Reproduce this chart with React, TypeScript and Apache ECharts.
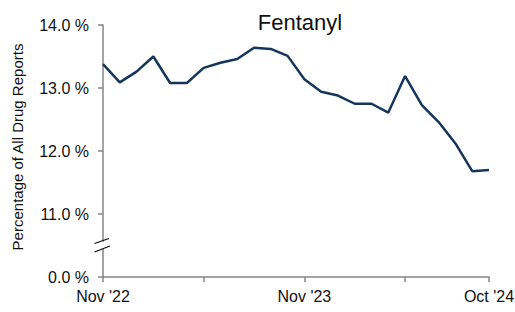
import React, { useEffect, useRef } from "react";
import * as echarts from "echarts";

const months = [
  "Nov '22", "Dec '22", "Jan '23", "Feb '23", "Mar '23", "Apr '23", "May '23", "Jun '23",
  "Jul '23", "Aug '23", "Sep '23", "Oct '23", "Nov '23", "Dec '23", "Jan '24", "Feb '24",
  "Mar '24", "Apr '24", "May '24", "Jun '24", "Jul '24", "Aug '24", "Sep '24", "Oct '24",
];
const fentanylPct = [
  13.38, 13.09, 13.26, 13.5, 13.08, 13.08, 13.32, 13.4, 13.46, 13.64, 13.62, 13.51,
  13.14, 12.94, 12.88, 12.75, 12.75, 12.61, 13.19, 12.73, 12.46, 12.12, 11.68, 11.7,
];
const labelIndices = [0, 12, 23];
const tickIndices = [0, 6, 12, 18, 23];
// axis break: value 10 on the scale is drawn as "0.0 %"
const breakBase = 10;

export default function App() {
  const ref = useRef<HTMLDivElement>(null);
  useEffect(() => {
    if (!ref.current) return;
    const chart = echarts.init(ref.current, undefined, { renderer: "svg" });
    const axisColor = "#868686";
    const font = "'Liberation Sans', Arial, sans-serif";
    chart.setOption({
      animation: false,
      title: {
        text: "Fentanyl",
        left: 295,
        textAlign: "center",
        top: 6,
        textStyle: { fontFamily: font, fontSize: 22, fontWeight: "normal", color: "#111" },
      },
      grid: { left: 103, right: 26, top: 25, bottom: 35, outerBoundsMode: "none", containLabel: false },
      xAxis: {
        type: "category",
        data: months,
        boundaryGap: false,
        axisLine: { lineStyle: { color: axisColor, width: 1.5 } },
        axisTick: {
          length: 5,
          lineStyle: { color: axisColor, width: 1.5 },
          interval: (i: number) => tickIndices.includes(i),
        },
        axisLabel: {
          interval: (i: number) => labelIndices.includes(i),
          color: "#111",
          fontFamily: font,
          fontSize: 16,
          margin: 11,
          formatter: (v: string) => v,
        },
      },
      yAxis: {
        type: "value",
        min: 10,
        max: 14,
        interval: 1,
        name: "Percentage of All Drug Reports",
        nameLocation: "middle",
        nameGap: 78,
        nameTextStyle: { fontFamily: font, fontSize: 15, color: "#111", padding: [0, 0, 0, 8] },
        axisLine: { show: true, lineStyle: { color: axisColor, width: 1.5 } },
        axisTick: { show: true, length: 5, lineStyle: { color: axisColor, width: 1.5 } },
        splitLine: { show: false },
        axisLabel: {
          color: "#111",
          fontFamily: font,
          fontSize: 16,
          margin: 14,
          formatter: (v: number) => (v === breakBase ? 0 : v).toFixed(1) + " %",
        },
      },
      series: [
        {
          type: "line",
          data: fentanylPct,
          symbol: "none",
          lineStyle: { color: "#15355a", width: 2.5 },
        },
      ],
    });
    const p = chart.convertToPixel({ xAxisIndex: 0, yAxisIndex: 0 } as any, [0, 10.5]) as number[];
    const cx = p[0] - 1;
    const cy = p[1] - 0.5;
    chart.setOption({
      graphic: [
        { type: "rect", shape: { x: cx - 3, y: cy - 3.5, width: 8, height: 7 }, style: { fill: "#fff" }, z: 100 },
        { type: "line", shape: { x1: cx - 7.5, y1: cy - 1.5, x2: cx + 7, y2: cy - 6.5 }, style: { stroke: "#111", lineWidth: 1.3 }, z: 101 },
        { type: "line", shape: { x1: cx - 7.5, y1: cy + 7, x2: cx + 8, y2: cy + 1 }, style: { stroke: "#111", lineWidth: 1.3 }, z: 101 },
      ],
    });
    return () => chart.dispose();
  }, []);
  return <div ref={ref} style={{ width: 515, height: 312, position: "absolute", left: 0, top: 0 }} />;
}
